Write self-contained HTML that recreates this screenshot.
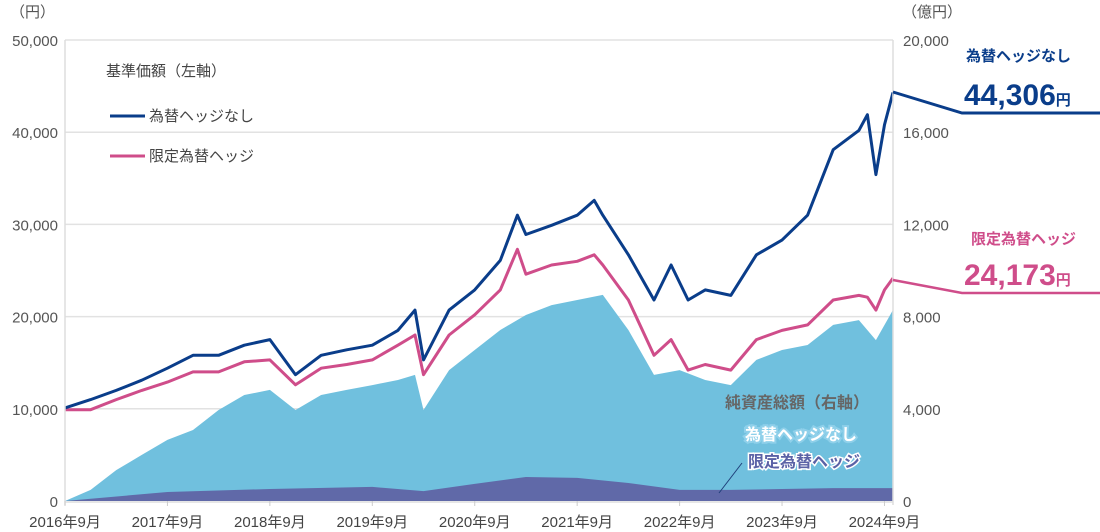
<!DOCTYPE html>
<html><head><meta charset="utf-8">
<style>
body{margin:0;background:#fff;}
svg{display:block;font-family:"Liberation Sans","Noto Sans CJK JP",sans-serif;}
</style></head><body>
<svg id="chart" width="1100" height="532" viewBox="0 0 1100 532" xmlns="http://www.w3.org/2000/svg">
<g id="grid"></g>
<g id="areas"></g>
<g id="lines"></g>
<g id="axes"></g>
<text x="10" y="17" font-size="15" fill="#555">（円）</text>
<text x="902" y="17" font-size="15" fill="#555">（億円）</text>
<text x="106" y="76" font-size="15" fill="#444">基準価額（左軸）</text>
<line x1="110" y1="116" x2="145" y2="116" stroke="#0a3d8a" stroke-width="3"/>
<text x="149" y="121" font-size="15" fill="#444">為替ヘッジなし</text>
<line x1="110" y1="156" x2="145" y2="156" stroke="#cf4d8a" stroke-width="3"/>
<text x="149" y="161" font-size="15" fill="#444">限定為替ヘッジ</text>
<text x="725" y="408" font-size="16" font-weight="bold" fill="#666">純資産総額（右軸）</text>
<text x="745" y="440" font-size="16" font-weight="bold" fill="#fff" stroke="#8fd0ea" stroke-width="4" paint-order="stroke">為替ヘッジなし</text>
<text x="748" y="467" font-size="16" font-weight="bold" fill="#5b62a6" stroke="#fff" stroke-width="3" paint-order="stroke">限定為替ヘッジ</text>
<line x1="719" y1="493" x2="742" y2="463" stroke="#1f3f7a" stroke-width="1"/>
<text x="966" y="61" font-size="15" font-weight="bold" fill="#0a3d8a">為替ヘッジなし</text>
<text x="964" y="105" font-size="30" font-weight="bold" fill="#0a3d8a">44,306<tspan font-size="15">円</tspan></text>
<text x="971" y="244" font-size="15" font-weight="bold" fill="#cf4d8a">限定為替ヘッジ</text>
<text x="964" y="285" font-size="30" font-weight="bold" fill="#cf4d8a">24,173<tspan font-size="15">円</tspan></text>
<polyline points="893,92 962,113 1100,113" fill="none" stroke="#0a3d8a" stroke-width="3"/>
<polyline points="893,280 962,293 1100,293" fill="none" stroke="#cf4d8a" stroke-width="2.5"/>
</svg>
<script>
const priceDates=["2016-09","2016-12","2017-03","2017-06","2017-09","2017-12","2018-03","2018-06","2018-09","2018-12","2019-03","2019-06","2019-09","2019-12","2020-02","2020-03","2020-06","2020-09","2020-12","2021-02","2021-03","2021-06","2021-09","2021-11","2021-12","2022-03","2022-06","2022-08","2022-10","2022-12","2023-03","2023-06","2023-09","2023-12","2024-03","2024-06","2024-07","2024-08","2024-09","2024-10"];
const unhedged=[10100,11000,12000,13100,14400,15800,15800,16900,17500,13700,15800,16400,16900,18500,20700,15300,20700,22900,26100,31000,28900,29900,31000,32600,31000,26700,21800,25600,21800,22900,22300,26700,28300,31000,38100,40200,41900,35400,40800,44306];
const hedged=[9900,9900,11000,12000,12900,14000,14000,15100,15300,12600,14400,14800,15300,16900,18000,13700,18000,20200,22900,27300,24600,25600,26000,26700,25600,21800,15800,17500,14200,14800,14200,17500,18500,19100,21800,22300,22100,20700,22900,24173];
const navDates=["2016-09","2016-12","2017-03","2017-06","2017-09","2017-12","2018-03","2018-06","2018-09","2018-12","2019-03","2019-06","2019-09","2019-12","2020-02","2020-03","2020-06","2020-09","2020-12","2021-03","2021-06","2021-09","2021-12","2022-03","2022-06","2022-09","2022-12","2023-03","2023-06","2023-09","2023-12","2024-03","2024-06","2024-08","2024-10"];
const navTotal=[0,480,1340,2000,2650,3080,3950,4600,4820,3950,4600,4820,5030,5250,5470,3950,5680,6550,7420,8070,8500,8720,8940,7420,5470,5680,5250,5030,6120,6550,6770,7640,7850,6980,8290];
const navHedgedDates=["2016-09","2017-09","2018-09","2019-09","2020-03","2020-09","2021-03","2021-09","2022-03","2022-09","2023-03","2023-09","2024-03","2024-10"];
const navHedged=[0,390,520,610,430,740,1040,1000,780,480,480,520,560,560];
const leftTicks=[0,10000,20000,30000,40000,50000];
const rightTicks=[0,4000,8000,12000,16000,20000];
const xTickLabels=["2016年9月","2017年9月","2018年9月","2019年9月","2020年9月","2021年9月","2022年9月","2023年9月","2024年9月"];

const X0=65,X1=893,Y0=501,YT=40;
function mIdx(s){const [y,m]=s.split("-").map(Number);return (y-2016)*12+(m-9);}
function xs(s){return X0+mIdx(s)*(X1-X0)/97;}
function yl(v){return Y0-v*(Y0-YT)/50000;}
function yr(v){return Y0-v*(Y0-YT)/20000;}
const NS="http://www.w3.org/2000/svg";
function mk(tag,attrs,parent){const e=document.createElementNS(NS,tag);for(const k in attrs)e.setAttribute(k,attrs[k]);parent.appendChild(e);return e;}
const grid=document.getElementById("grid"),axes=document.getElementById("axes"),areas=document.getElementById("areas"),lines=document.getElementById("lines");
leftTicks.forEach((t,i)=>{
 const y=yl(t);
 if(t>0){const g=mk("line",{x1:X0,x2:X1,y1:y,y2:y,stroke:"#e2e2e2","stroke-width":1.5},grid);
 
 }
 const tx=mk("text",{x:58,y:y+6,"font-size":15,fill:"#555","text-anchor":"end"},axes);
 tx.textContent=t.toLocaleString("en-US");
 
 
});
rightTicks.forEach(t=>{
 const tx=mk("text",{x:903,y:yr(t)+6,"font-size":15,fill:"#555"},axes);
 tx.textContent=t.toLocaleString("en-US");
 
 
});
[X0,X1].forEach(x=>{const a=mk("line",{x1:x,x2:x,y1:YT,y2:Y0+4,stroke:"#ddd","stroke-width":1.5},axes);
 
 });
const xa=mk("line",{x1:X0,x2:X1,y1:Y0+1,y2:Y0+1,stroke:"#ddd","stroke-width":1.5},axes);


xTickLabels.forEach((l,i)=>{
 const x=X0+i*12*(X1-X0)/97;
 const tk=mk("line",{x1:x,x2:x,y1:Y0,y2:Y0+5,stroke:"#ccc"},axes);
 
 
 const tx=mk("text",{x:x,y:527,"font-size":15,fill:"#444","text-anchor":"middle"},axes);
 tx.textContent=l;
 
 
});
function areaPath(d,v){let p="M"+xs(d[0])+","+Y0;d.forEach((s,i)=>{p+=" L"+xs(s).toFixed(1)+","+yr(v[i]).toFixed(1);});p+=" L"+xs(d[d.length-1])+","+Y0+" Z";return p;}
const a1=mk("path",{d:areaPath(navDates,navTotal),fill:"#70c0de"},areas);


const a2=mk("path",{d:areaPath(navHedgedDates,navHedged),fill:"#6069a8"},areas);


function linePts(v){return priceDates.map((s,i)=>xs(s).toFixed(1)+","+yl(v[i]).toFixed(1)).join(" ");}
const l2=mk("polyline",{points:linePts(hedged),fill:"none",stroke:"#cf4d8a","stroke-width":3,"stroke-linejoin":"round"},lines);


const l1=mk("polyline",{points:linePts(unhedged),fill:"none",stroke:"#0a3d8a","stroke-width":3,"stroke-linejoin":"round"},lines);


</script>
</body></html>
